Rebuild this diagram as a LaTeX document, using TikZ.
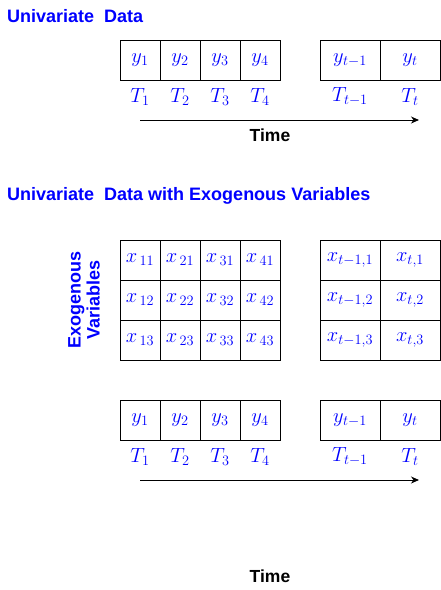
\RequirePackage{fix-cm}
\documentclass[tikz,border=0pt]{standalone}
\usepackage{fontspec}
\usetikzlibrary{arrows.meta}
\newfontfamily\headfont{Liberation Sans}
\tikzset{
  head/.style={anchor=west, inner sep=0pt, text=blue, font=\headfont\bfseries\fontsize{18}{19}\selectfont},
  cell/.style={draw, line width=1pt, minimum width=40pt, minimum height=40pt, inner sep=0pt, text=blue, font=\fontsize{20.5}{20.5}\selectfont},
  widecell/.style={cell, minimum width=60pt},
  tlabel/.style={inner sep=0pt, text=blue, font=\fontsize{20.5}{20.5}\selectfont},
  timeaxis/.style={-{Stealth[length=8pt, width=7pt, inset=2.5pt]}, line width=1pt},
  timelabel/.style={inner sep=0pt, font=\headfont\bfseries\fontsize{17.5}{18}\selectfont}
}
\begin{document}
\begin{tikzpicture}[x=1pt, y=-1pt]
    \useasboundingbox (0,0) rectangle (441,590);
    % univariate data
    \node[head] (title1) at (7,16) {Univariate\ \ Data};
    \foreach \i in {1,...,4} {
        \node[cell] (y\i) at (100+40*\i,60) {$y_\i$};
        \node[tlabel] (t\i) at (100+40*\i,97) {$T_\i$};
    }
    \node[widecell] (yp) at (350,60) {$y_{t-1}$};
    \node[widecell] (yl) at (410,60) {$y_t$};
    \node[tlabel] (tp) at (350,97) {$T_{t-1}$};
    \node[tlabel] (tl) at (410,97) {$T_t$};
    \coordinate (a1) at (140,120);
    \coordinate (b1) at (419,120);
    \draw[timeaxis] (a1) -- (b1);
    \node[timelabel] (time1) at (270,135) {Time};
    % univariate data with exogenous variables
    \node[head] (title2) at (7,196) {Univariate\ \ Data with Exogenous Variables};
    \node[head, anchor=center, rotate=90, align=center] (exo) at (84,300) {Exogenous\\Variables};
    \foreach \j in {1,2,3} {
        \foreach \i in {1,...,4} {
            \node[cell] (x\i\j) at (100+40*\i,220+40*\j) {$x_{\,\i\j}$};
        }
        \node[widecell] (xp\j) at (350,220+40*\j) {$x_{t-1,\j}$};
        \node[widecell] (xl\j) at (410,220+40*\j) {$x_{t,\j}$};
    }
    \foreach \i in {1,...,4} {
        \node[cell] (z\i) at (100+40*\i,420) {$y_\i$};
        \node[tlabel] (s\i) at (100+40*\i,457) {$T_\i$};
    }
    \node[widecell] (zp) at (350,420) {$y_{t-1}$};
    \node[widecell] (zl) at (410,420) {$y_t$};
    \node[tlabel] (sp) at (350,457) {$T_{t-1}$};
    \node[tlabel] (sl) at (410,457) {$T_t$};
    \coordinate (a2) at (140,480);
    \coordinate (b2) at (419,480);
    \draw[timeaxis] (a2) -- (b2);
    \node[timelabel] (time2) at (270,576) {Time};
\end{tikzpicture}
\end{document}
